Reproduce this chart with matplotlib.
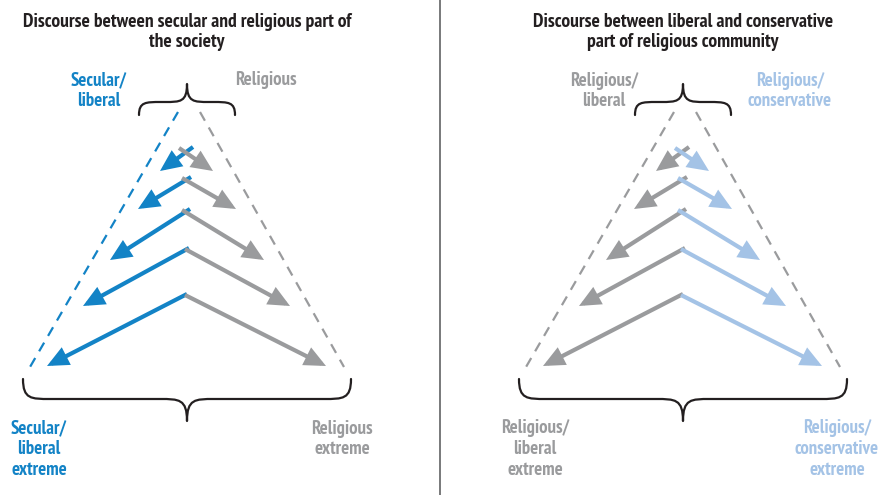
import matplotlib
matplotlib.use("Agg")
import matplotlib.pyplot as plt
from matplotlib.patches import FancyArrowPatch, PathPatch
from matplotlib.path import Path
from matplotlib import font_manager

# narrow bold face close to the original, else plain DejaVu a bit smaller
FONT = ["PT Sans Narrow", "DejaVu Sans"]
FS = 13.5
FS_TITLE = 14
try:
    font_manager.findfont(font_manager.FontProperties(family="PT Sans Narrow", weight="bold"),
                          fallback_to_default=False)
except Exception:
    FONT = ["DejaVu Sans"]
    FS = 9.5
    FS_TITLE = 9.5
plt.rcParams["font.family"] = FONT

BLUE = "#1383c6"
GRAY = "#9a9b9d"
LIGHT = "#a4c3e6"
BLACK = "#231f20"

# panel data (pixel space of the 884x495 picture)
apex_x = [187, 683]
titles = ["Discourse between secular and religious part of\nthe society",
          "Discourse between liberal and conservative\npart of religious community"]
left_colors = [BLUE, GRAY]
right_colors = [GRAY, LIGHT]
left_dash_colors = [BLUE, GRAY]
top_left_labels = ["Secular/\nliberal", "Religious/\nliberal"]
top_right_labels = ["Religious", "Religious/\nconservative"]
bottom_left_labels = ["Secular/\nliberal\nextreme", "Religious/\nliberal\nextreme"]
bottom_right_labels = ["Religious\nextreme", "Religious/\nconservative\nextreme"]

# arrows, offsets from the apex
start_y = [147, 177, 209, 248, 294]
tip_y = [171, 209, 260, 306, 366]
left_start_dx = [6, 4, 3, 2, 0]
left_tip_dx = [-27, -49, -77, -104, -140]
right_start_dx = [-8, -5, -5, -2, -2]
right_tip_dx = [26, 49, 77, 103, 139]


def brace(ax, xl, xr, y_end, y_mid, y_tip, a):
    xc = (xl + xr) / 2
    verts = [(xl, y_end), (xl, y_mid), (xl + 0.3 * a, y_mid), (xl + a, y_mid),
             (xc - a, y_mid),
             (xc - 0.3 * a, y_mid), (xc, y_mid), (xc, y_tip),
             (xc, y_mid), (xc + 0.3 * a, y_mid), (xc + a, y_mid),
             (xr - a, y_mid),
             (xr - 0.3 * a, y_mid), (xr, y_mid), (xr, y_end)]
    codes = [Path.MOVETO] + [Path.CURVE4] * 3 + [Path.LINETO] + [Path.CURVE4] * 6 \
        + [Path.LINETO] + [Path.CURVE4] * 3
    ax.add_patch(PathPatch(Path(verts, codes), fill=False, ec=BLACK, lw=1.6,
                           capstyle="round", joinstyle="round"))


def arrow(ax, p0, p1, color, z):
    ax.add_patch(FancyArrowPatch(p0, p1, arrowstyle="-|>,head_length=1.05,head_width=0.48",
                                 mutation_scale=10, color=color, lw=3.0,
                                 shrinkA=0, shrinkB=0, zorder=z,
                                 capstyle="butt", joinstyle="miter"))


fig = plt.figure(figsize=(8.84, 4.95), dpi=100)
ax = fig.add_axes([0, 0, 1, 1])
ax.set_xlim(0, 884)
ax.set_ylim(495, 0)
ax.axis("off")

ax.plot([440, 440], [0, 495], color="#6d6e70", lw=1.3)

lab = dict(fontsize=FS, fontweight="bold", ha="center", va="center", linespacing=1.2)

for i, cx in enumerate(apex_x):
    ax.text(cx, 32, titles[i], color=BLACK, fontsize=FS_TITLE, fontweight="bold",
            ha="center", va="center", linespacing=1.2)

    # dashed sides
    ax.plot([cx - 9, cx - 157], [112, 367], color=left_dash_colors[i], lw=1.6,
            dashes=(4.5, 3.5))
    ax.plot([cx + 13, cx + 157], [112, 367], color=GRAY, lw=1.6, dashes=(4.5, 3.5))

    brace(ax, cx - 48, cx + 48, 115, 102, 84, 22)
    brace(ax, cx - 164, cx + 164, 379, 399, 421, 27)

    for k in range(len(start_y)):
        arrow(ax, (cx + left_start_dx[k], start_y[k]), (cx + left_tip_dx[k], tip_y[k]),
              left_colors[i], 3)
        arrow(ax, (cx + right_start_dx[k], start_y[k] + 1), (cx + right_tip_dx[k], tip_y[k]),
              right_colors[i], 4)

ax.text(99, 91, top_left_labels[0], color=BLUE, **lab)
ax.text(266, 80, top_right_labels[0], color=GRAY, **lab)
ax.text(604, 91, top_left_labels[1], color=GRAY, **lab)
ax.text(790, 91, top_right_labels[1], color=LIGHT, **lab)

ax.text(39, 449, bottom_left_labels[0], color=BLUE, **lab)
ax.text(342, 439, bottom_right_labels[0], color=GRAY, **lab)
ax.text(535, 449, bottom_left_labels[1], color=GRAY, **lab)
ax.text(837, 449, bottom_right_labels[1], color=LIGHT, **lab)

fig.savefig("out.png", dpi=100)
